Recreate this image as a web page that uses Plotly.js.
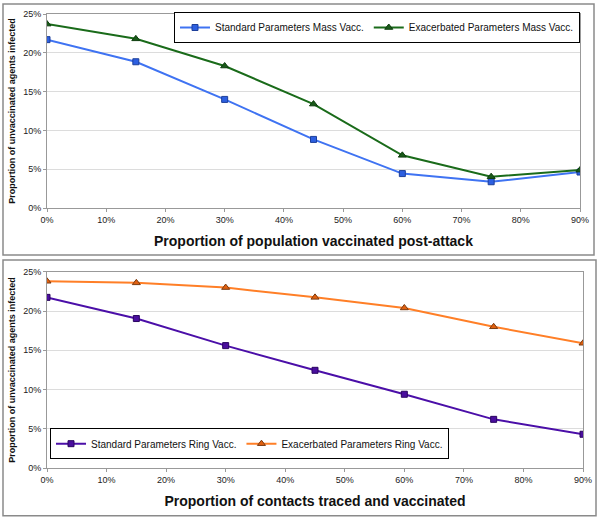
<!DOCTYPE html>
<html><head><meta charset="utf-8">
<script src="https://cdn.plot.ly/plotly-3.0.1.min.js"></script>
<style>html,body{margin:0;padding:0;background:#fff}#chart{width:600px;height:519px}</style>
</head><body><div id="chart"></div>
<script>
const xVals = [0, 0.15, 0.30, 0.45, 0.60, 0.75, 0.90];
const stdMass = [0.217, 0.1885, 0.140, 0.0885, 0.0445, 0.034, 0.0465];
const exaMass = [0.237, 0.218, 0.183, 0.134, 0.068, 0.0405, 0.049];
const stdRing = [0.2175, 0.1905, 0.156, 0.1245, 0.094, 0.062, 0.043];
const exaRing = [0.238, 0.236, 0.230, 0.2175, 0.204, 0.180, 0.159];
const xTickVals = [0, 0.1, 0.2, 0.3, 0.4, 0.5, 0.6, 0.7, 0.8, 0.9];
const yTickVals = [0, 0.05, 0.10, 0.15, 0.20, 0.25];
const yTitle = 'Proportion of unvaccinated agents infected';
const xTitleTop = 'Proportion of population vaccinated post-attack';
const xTitleBottom = 'Proportion of contacts traced and vaccinated';

const L = 47, R = 17, T = 12, B = 51, W = 600, H = 519;
const pw = W - L - R, ph = H - T - B;
const px = x => (x - L) / pw;
const py = y => (H - B - y) / ph;

const traces = [
  {x: xVals, y: stdMass, name: 'Standard Parameters Mass Vacc.', mode: 'lines+markers', xaxis: 'x', yaxis: 'y', legend: 'legend',
   line: {color: '#3f73f2', width: 2}, marker: {symbol: 'square', size: 6, color: '#2d5fe0', line: {color: '#1d3f9a', width: 1}}},
  {x: xVals, y: exaMass, name: 'Exacerbated Parameters Mass Vacc.', mode: 'lines+markers', xaxis: 'x', yaxis: 'y', legend: 'legend',
   line: {color: '#1a6b1a', width: 2}, marker: {symbol: 'triangle-up', size: 7, color: '#1a5a1a', line: {color: '#0d3d0d', width: 1}}},
  {x: xVals, y: stdRing, name: 'Standard Parameters Ring Vacc.', mode: 'lines+markers', xaxis: 'x2', yaxis: 'y2', legend: 'legend2',
   line: {color: '#4b0fa8', width: 2}, marker: {symbol: 'square', size: 6, color: '#4a0e9e', line: {color: '#2a0560', width: 1}}},
  {x: xVals, y: exaRing, name: 'Exacerbated Parameters Ring Vacc.', mode: 'lines+markers', xaxis: 'x2', yaxis: 'y2', legend: 'legend2',
   line: {color: '#ff7f27', width: 2}, marker: {symbol: 'triangle-up', size: 7, color: '#e06010', line: {color: '#7a3a10', width: 1}}}
];

const tickFont = {family: 'Liberation Sans, Arial, sans-serif', size: 9, color: '#222'};
const axBase = {range: [0, 0.9], tickvals: xTickVals, tickformat: '.0%', showgrid: false, zeroline: false,
  showline: true, linecolor: '#999', linewidth: 1, mirror: true, ticks: 'outside', ticklen: 3, tickcolor: '#999', tickfont: tickFont, fixedrange: true};
const ayBase = {range: [0, 0.25], tickvals: yTickVals, tickformat: '.0%', showgrid: true, gridcolor: '#dcdcdc', zeroline: false,
  showline: true, linecolor: '#999', linewidth: 1, mirror: true, ticks: 'outside', ticklen: 3, tickcolor: '#999', tickfont: tickFont, fixedrange: true};
const yTitleObj = {text: '<b>' + yTitle + '</b>', font: {family: 'Liberation Sans, Arial, sans-serif', size: 9, color: '#111'}, standoff: 6};
const xTitleFont = {family: 'Liberation Sans, Arial, sans-serif', size: 14, color: '#111'};
const legFont = {family: 'Liberation Sans, Arial, sans-serif', size: 10, color: '#111'};

const layout = {
  width: W, height: H, margin: {l: L, r: R, t: T, b: B}, paper_bgcolor: '#fff', plot_bgcolor: '#fff', showlegend: true,
  xaxis: Object.assign({}, axBase, {domain: [0, px(580)], anchor: 'y', title: {text: '<b>' + xTitleTop + '</b>', font: xTitleFont, standoff: 12}}),
  yaxis: Object.assign({}, ayBase, {domain: [py(207), 1], anchor: 'x', title: yTitleObj}),
  xaxis2: Object.assign({}, axBase, {domain: [0, 1], anchor: 'y2', title: {text: '<b>' + xTitleBottom + '</b>', font: xTitleFont, standoff: 12}}),
  yaxis2: Object.assign({}, ayBase, {domain: [0, py(271)], anchor: 'x2', title: yTitleObj}),
  legend: {orientation: 'h', x: px(580), y: py(10), xanchor: 'right', yanchor: 'top', bgcolor: '#fff', bordercolor: '#000', borderwidth: 1,
    font: legFont, itemwidth: 30},
  legend2: {orientation: 'h', x: px(50), y: py(428), xanchor: 'left', yanchor: 'top', bgcolor: '#fff', bordercolor: '#000', borderwidth: 1,
    font: legFont, itemwidth: 30},
  shapes: [
    {type: 'rect', xref: 'paper', yref: 'paper', x0: px(3), x1: px(594), y0: py(254), y1: py(2), line: {color: '#8a8a8a', width: 1.5}},
    {type: 'rect', xref: 'paper', yref: 'paper', x0: px(3), x1: px(596), y0: py(516), y1: py(259), line: {color: '#8a8a8a', width: 1.5}}
  ]
};
Plotly.newPlot('chart', traces, layout, {displayModeBar: false, staticPlot: true});
</script></body></html>
